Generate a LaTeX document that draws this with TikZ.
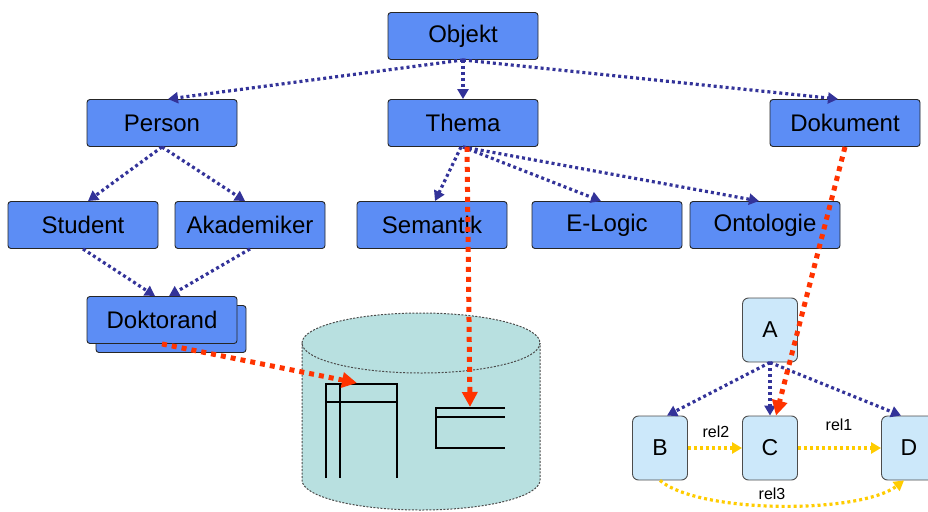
\documentclass[tikz,border=0pt]{standalone}
\usepackage{fontspec}
\setmainfont{Liberation Sans}
\usetikzlibrary{arrows.meta}
\definecolor{boxblue}{RGB}{92,141,245}
\definecolor{lightbox}{RGB}{204,232,250}
\definecolor{navyarrow}{RGB}{51,51,153}
\definecolor{redarrow}{RGB}{255,51,0}
\definecolor{yelarrow}{RGB}{255,204,0}
\definecolor{cylcol}{RGB}{184,224,224}
\begin{document}
\begin{tikzpicture}[x=1pt,y=-1pt,
  classbox/.style={draw=black!85, line width=0.9pt, fill=boxblue, rounded corners=3pt, minimum width=150pt, minimum height=47pt, inner sep=0pt, font=\fontsize{24}{28}\selectfont},
  smallbox/.style={draw=gray!60!black, line width=0.9pt, fill=lightbox, rounded corners=6pt, minimum width=55pt, minimum height=64pt, inner sep=0pt, font=\fontsize{23}{27}\selectfont},
  blueedge/.style={draw=navyarrow, line width=3.2pt, dash pattern=on 3pt off 3pt, -{Triangle[length=10pt,width=11pt]}},
  rededge/.style={draw=redarrow, line width=5pt, dash pattern=on 5pt off 5pt, -{Triangle[length=15pt,width=15pt]}},
  yeledge/.style={draw=yelarrow, line width=3.2pt, dash pattern=on 3pt off 3pt, -{Triangle[length=10pt,width=11pt]}},
  rellabel/.style={font=\fontsize{16}{19}\selectfont, inner sep=1pt},
  tableline/.style={draw=black, line width=1.6pt},
  cylside/.style={fill=cylcol},
  cylborder/.style={draw=black!70, line width=1pt, dash pattern=on 2pt off 1.5pt}
]
\useasboundingbox (0,0) rectangle (928,511);
\clip (0,0) rectangle (928,511);

% cylinder
\path[cylside] (302,343) arc[start angle=180, end angle=360, x radius=119, y radius=30]
  -- (540,480) arc[start angle=0, end angle=180, x radius=119, y radius=30] -- cycle;
\draw[cylborder] (421,343) ellipse[x radius=119, y radius=30];
\draw[cylborder] (302,343) -- (302,480) arc[start angle=180, end angle=0, x radius=119, y radius=30] -- (540,343);
% tables
\draw[tableline] (326,478) -- (326,384) -- (397,384) -- (397,478);
\draw[tableline] (340,384) -- (340,478);
\draw[tableline] (326,402) -- (397,402);
\draw[tableline] (505,408) -- (436,408) -- (436,448) -- (505,448);
\draw[tableline] (436,417) -- (505,417);
\coordinate (tabA) at (357,383);
\coordinate (tabB) at (470,407);

% class boxes
\node[classbox] (objekt) at (463,36) {Objekt};
\node[classbox] (person) at (162,123) {Person};
\node[classbox] (thema) at (463,123) {Thema};
\node[classbox] (dokument) at (845,123) {Dokument};
\node[classbox] (student) at (83,225) {Student};
\node[classbox] (akad) at (250,225) {Akademiker};
\node[classbox] (semantik) at (432,225) {Semantik};
\node[classbox] (elogic) at (607,225) {E-Logic};
\node[classbox] (onto) at (765,225) {Ontologie};
\node[classbox] (dokshadow) at (171,329) {};
\node[classbox] (doktorand) at (162,320) {Doktorand};

% small boxes
\node[smallbox] (A) at (770,330) {A};
\node[smallbox] (B) at (660,448) {B};
\node[smallbox] (C) at (770,448) {C};
\node[smallbox] (D) at (909,448) {D};

% blue edges
\draw[blueedge] (objekt.south) -- ([xshift=6pt]person.north);
\draw[blueedge] (objekt.south) -- (thema.north);
\draw[blueedge] (objekt.south) -- ([xshift=-7pt]dokument.north);
\draw[blueedge] (person.south) -- ([xshift=5pt]student.north);
\draw[blueedge] (person.south) -- ([xshift=-5pt]akad.north);
\draw[blueedge] (student.south) -- ([xshift=-7pt]doktorand.north);
\draw[blueedge] (akad.south) -- ([xshift=7pt]doktorand.north);
\draw[blueedge] ([xshift=-2pt]thema.south) -- ([xshift=3pt]semantik.north);
\draw[blueedge] (thema.south) -- ([xshift=-6pt]elogic.north);
\draw[blueedge] (thema.south) -- ([xshift=-6pt]onto.north);
\draw[blueedge] (A.south) -- ([xshift=7pt]B.north);
\draw[blueedge] (A.south) -- (C.north);
\draw[blueedge] (A.south) -- ([xshift=-8pt]D.north);

% red edges
\draw[rededge] (doktorand.south) -- (tabA);
\draw[rededge] ([xshift=4pt]thema.south) -- (tabB);
\draw[rededge] (dokument.south) -- ([xshift=6pt]C.north);

% yellow edges
\draw[yeledge] (B.east) -- (C.west);
\draw[yeledge] (C.east) -- (D.west);
\draw[yeledge] (B.south) .. controls (700,514) and (860,514) .. ([xshift=-5pt]D.south);
\node[rellabel] (r2) at (716,432) {rel2};
\node[rellabel] (r1) at (839,425) {rel1};
\node[rellabel] (r3) at (772,494) {rel3};
\end{tikzpicture}
\end{document}
